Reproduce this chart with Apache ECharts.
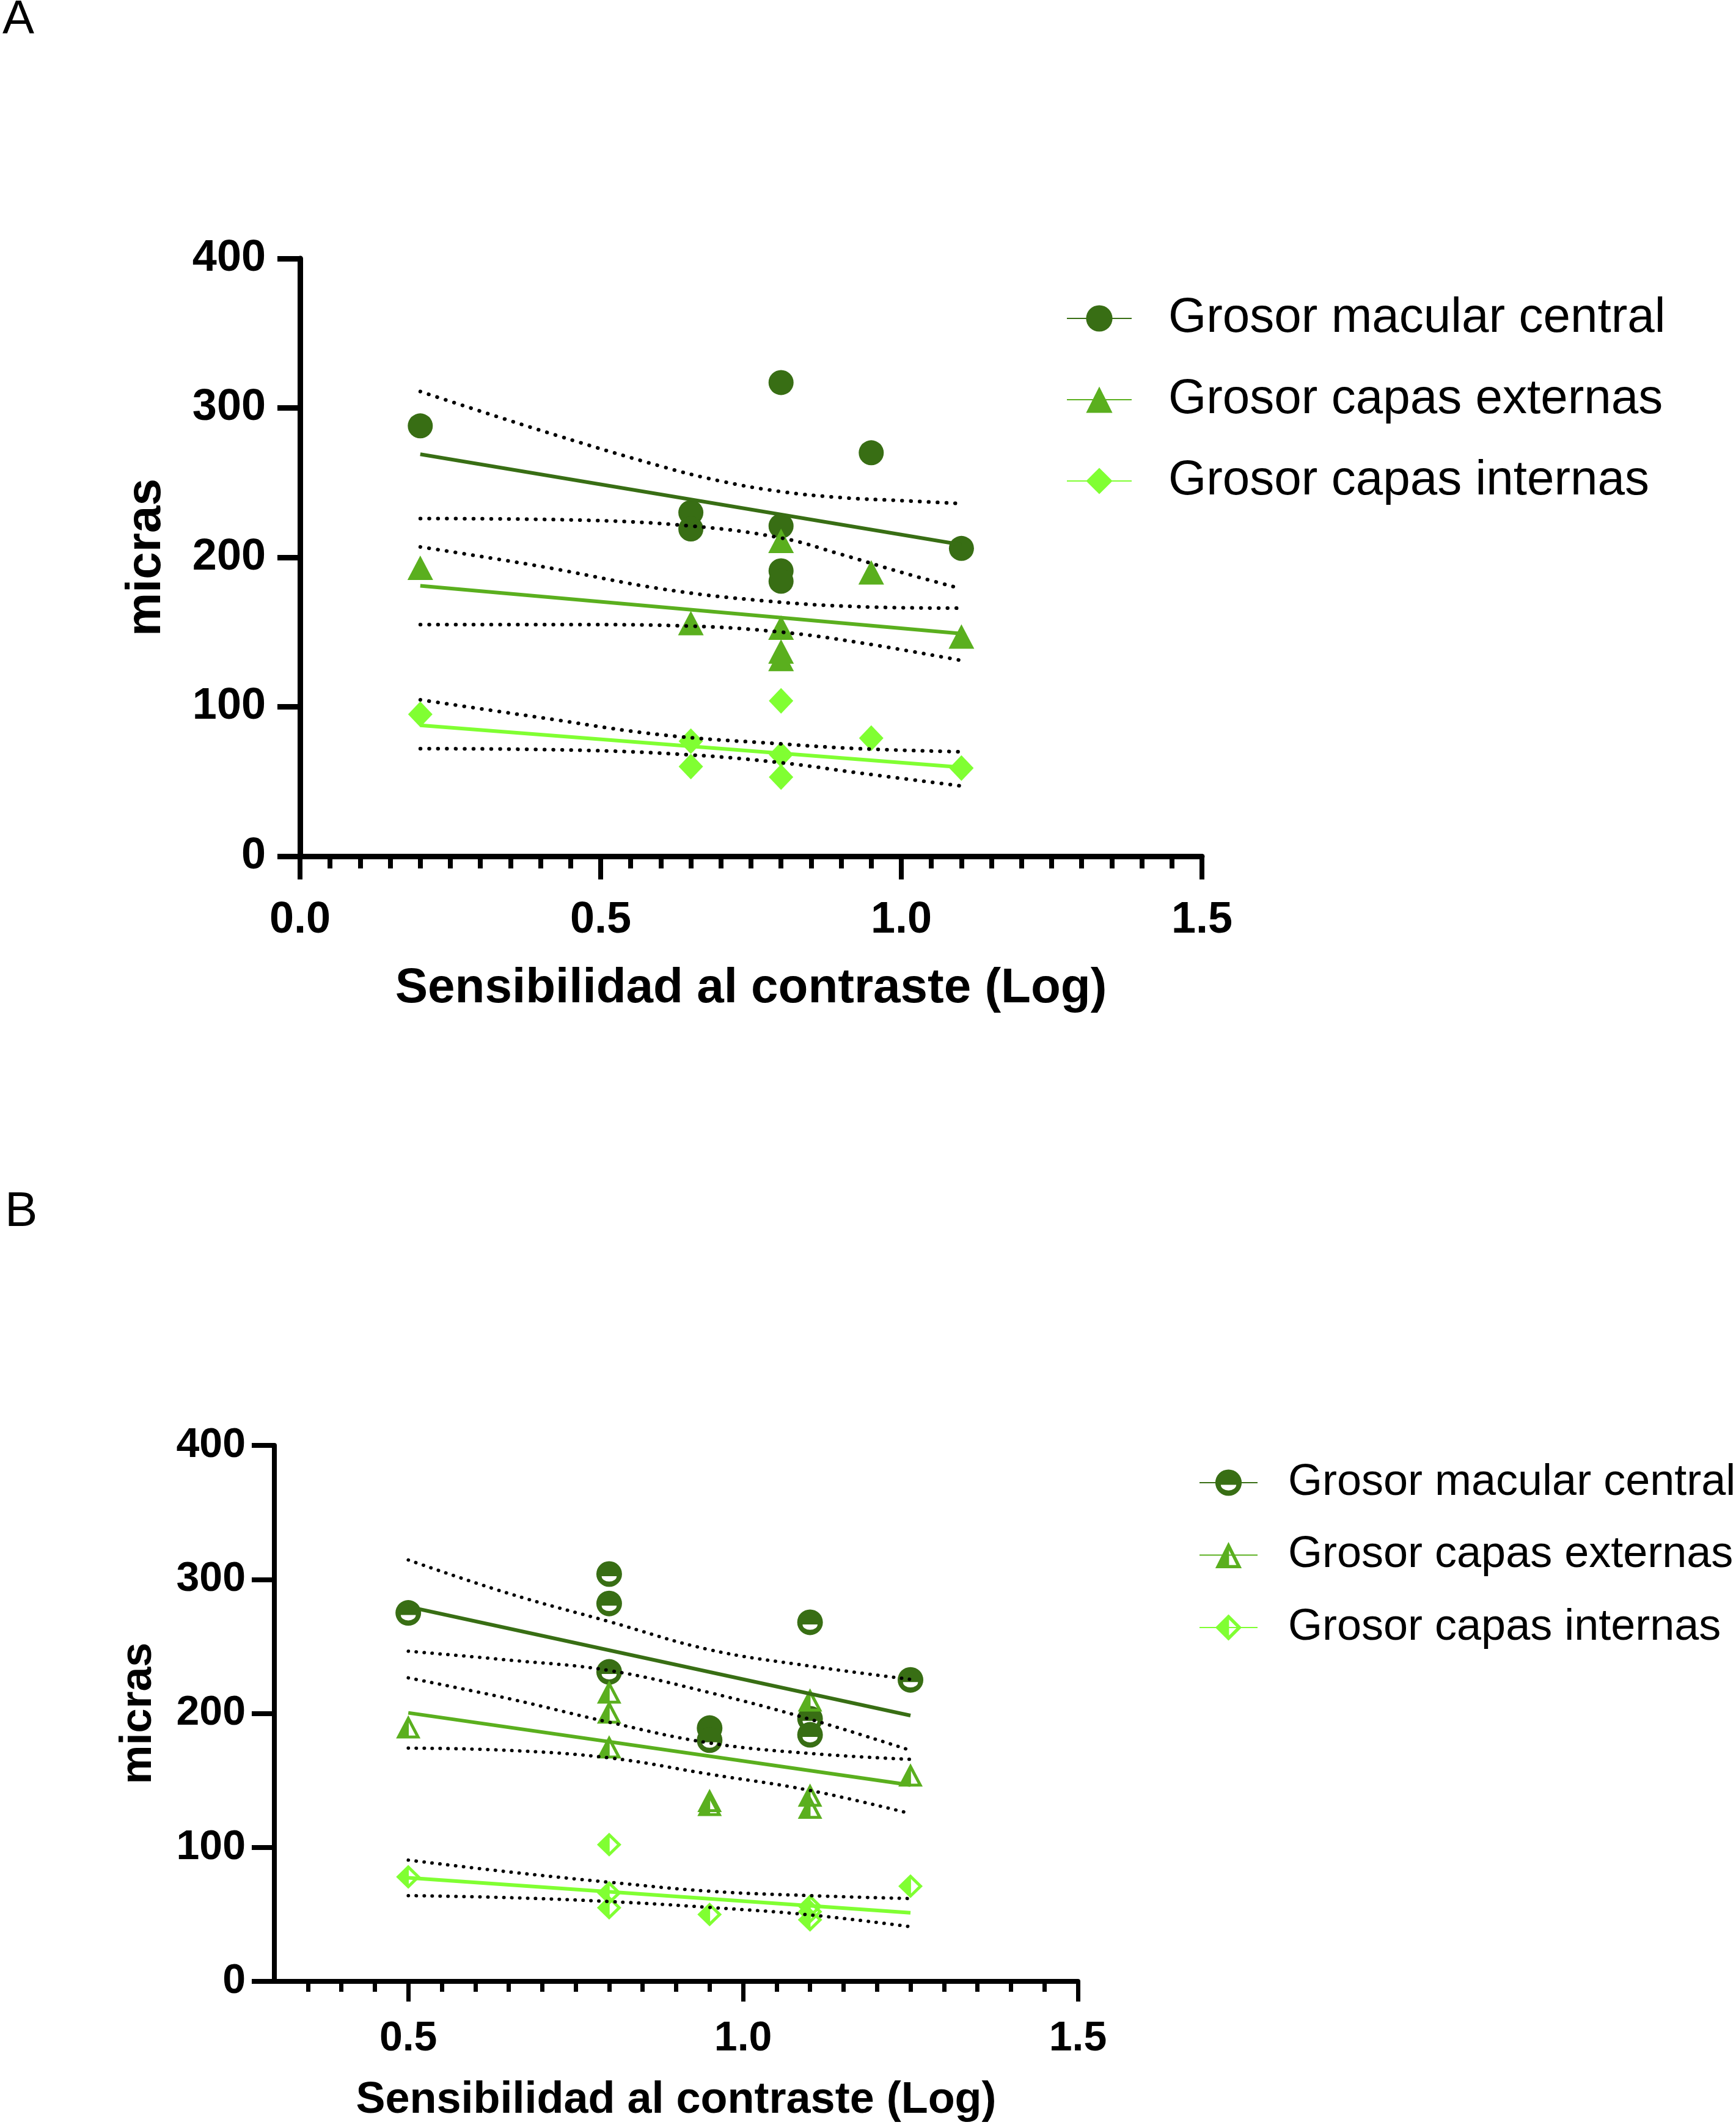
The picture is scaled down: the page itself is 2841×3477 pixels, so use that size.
<!DOCTYPE html>
<html><head><meta charset="utf-8">
<script src="https://cdn.jsdelivr.net/npm/echarts@6/dist/echarts.min.js"></script>
<style>html,body{margin:0;padding:0;background:#fff}#c{width:2841px;height:3477px}</style>
</head><body><div id="c"></div>
<script>
// ---------------- Shared ----------------
const seriesNames = ['Grosor macular central', 'Grosor capas externas', 'Grosor capas internas'];
const yTickValues = [0, 100, 200, 300, 400];

// ---------------- Panel A data ----------------
const aCircleX = [0.2, 0.65, 0.65, 0.8, 0.8, 0.8, 0.8, 0.95, 1.1];
const aCircleY = [288, 230, 219, 317, 221, 191, 184, 270, 206];
const aTriX = [0.2, 0.65, 0.8, 0.8, 0.8, 0.8, 0.95, 1.1];
const aTriY = [193, 156, 211, 153, 137, 132, 190, 147];
const aDiaX = [0.2, 0.65, 0.65, 0.8, 0.8, 0.8, 0.95, 1.1];
const aDiaY = [95, 77, 60, 104, 68, 53, 79, 59];

const aFitX = [0.2, 1.1];
const aFitCircle = [269, 208.5];
const aFitTri = [181, 149];
const aFitDia = [87.6, 59.5];

const aCircleUpX = [0.2, 0.4, 0.6, 0.7, 0.8, 0.9, 1.0, 1.1];
const aCircleUpY = [311, 285, 261, 251, 244, 240, 238, 236];
const aCircleLoX = [0.2, 0.46, 0.65, 0.8, 0.9, 1.0, 1.1];
const aCircleLoY = [226, 225, 221, 213, 202, 190, 179];
const aTriUpX = [0.2, 0.4, 0.6, 0.77, 0.93, 1.1];
const aTriUpY = [207, 194, 179, 171, 167, 166];
const aTriLoX = [0.2, 0.46, 0.65, 0.8, 0.93, 1.1];
const aTriLoY = [155, 155, 154, 150, 143, 131];
const aDiaUpX = [0.2, 0.4, 0.6, 0.8, 0.93, 1.1];
const aDiaUpY = [104.7, 92.8, 81.3, 75.2, 72, 69.9];
const aDiaLoX = [0.2, 0.46, 0.65, 0.8, 0.93, 1.1];
const aDiaLoY = [72, 71, 67.8, 62.6, 55.7, 47];

// ---------------- Panel B data ----------------
const bCircleX = [0.5, 0.8, 0.8, 0.8, 0.95, 0.95, 1.1, 1.1, 1.1, 1.25];
const bCircleY = [275, 304, 282, 231, 189, 180, 268, 196, 184, 225];
const bTriX = [0.5, 0.8, 0.8, 0.8, 0.95, 0.95, 1.1, 1.1, 1.1, 1.25];
const bTriY = [190, 216, 201, 175, 135, 132, 210, 139, 130, 154];
const bDiaX = [0.5, 0.8, 0.8, 0.8, 0.95, 1.1, 1.1, 1.1, 1.25];
const bDiaY = [78, 102, 66, 55, 50, 56, 52, 46, 71];

const bFitX = [0.5, 1.25];
const bFitCircle = [279.6, 198.4];
const bFitTri = [200.4, 146.5];
const bFitDia = [77.3, 51.2];

const bBandX = [0.5, 0.65, 0.8, 0.95, 1.1, 1.25];
const bCircleUpY = [314.5, 289.5, 268.5, 247.5, 235.3, 225.4];
const bCircleLoY = [246.4, 239.8, 232, 215.5, 195.6, 172.4];
const bTriUpY = [226.5, 211, 193.4, 177.9, 170.1, 165.7];
const bTriLoY = [174.1, 172.4, 166.8, 154.6, 142.5, 125.2];
const bDiaUpY = [90.5, 81.7, 74, 67.3, 64, 61.8];
const bDiaLoY = [64, 62.5, 59.6, 55.2, 49.6, 40.8];

const xMajorB = [0.5, 1.0, 1.5];
const xMinorB = [0.35, 0.4, 0.45, 0.55, 0.6, 0.65, 0.7, 0.75, 0.8, 0.85, 0.9, 0.95,
                 1.05, 1.1, 1.15, 1.2, 1.25, 1.3, 1.35, 1.4, 1.45];

// ---------------- Styling ----------------
const COLORS = ['#386E14', '#5AAF1E', '#80FF32'];
const FONT = 'Liberation Sans';
const SYM_A = ['circle', 'triangle', 'diamond'];
const SIZE_A = [41, [42, 40], [40, 42]];
const SYM_B = [
  'path://M20,0A20,20,0,1,1,19.99,0ZM31.7,23.3L8.3,23.3A11.7,8.5,0,0,0,31.7,23.3Z',
  'path://M20,0L40,40L0,40ZM20.8,12.8L20.8,35L31.9,35Z',
  'path://M20,0L40,20L20,40L0,20ZM20.8,7.9L20.8,32.1L32.9,20Z'
];
const SIZE_B = [42, [40, 38], [40, 39]];

function zip(xs, ys) { return xs.map((x, i) => [x, ys[i]]); }

const series = [];
function addPanel(prefix, axisIdx, pts, fits, fitX, bands, syms, sizes, lineW, dotW, dash) {
  pts.forEach((p, i) => {
    series.push({
      type: 'scatter', name: prefix + '|pts' + i, xAxisIndex: axisIdx, yAxisIndex: axisIdx,
      data: zip(p[0], p[1]), symbol: syms[i], symbolSize: sizes[i],
      itemStyle: { color: COLORS[i], opacity: 1 }, z: 3, silent: true
    });
  });
  fits.forEach((f, i) => {
    series.push({
      type: 'line', name: prefix + '|' + seriesNames[i], xAxisIndex: axisIdx, yAxisIndex: axisIdx,
      data: zip(fitX, f), symbol: syms[i], symbolSize: sizes[i], showSymbol: false,
      lineStyle: { color: COLORS[i], width: lineW }, itemStyle: { color: COLORS[i] },
      z: 4, silent: true
    });
  });
  bands.forEach((b, i) => {
    series.push({
      type: 'line', name: prefix + '|band' + i, xAxisIndex: axisIdx, yAxisIndex: axisIdx,
      data: zip(b[0], b[1]), symbol: 'none', smooth: 0.4,
      lineStyle: { color: '#000', width: dotW, type: dash, cap: 'round' },
      z: 5, silent: true
    });
  });
}

addPanel('A', 0,
  [[aCircleX, aCircleY], [aTriX, aTriY], [aDiaX, aDiaY]],
  [aFitCircle, aFitTri, aFitDia], aFitX,
  [[aCircleUpX, aCircleUpY], [aCircleLoX, aCircleLoY], [aTriUpX, aTriUpY],
   [aTriLoX, aTriLoY], [aDiaUpX, aDiaUpY], [aDiaLoX, aDiaLoY]],
  SYM_A, SIZE_A, 6, 6, [0.5, 14]);

addPanel('B', 1,
  [[bCircleX, bCircleY], [bTriX, bTriY], [bDiaX, bDiaY]],
  [bFitCircle, bFitTri, bFitDia], bFitX,
  [[bBandX, bCircleUpY], [bBandX, bCircleLoY], [bBandX, bTriUpY],
   [bBandX, bTriLoY], [bBandX, bDiaUpY], [bBandX, bDiaLoY]],
  SYM_B, SIZE_B, 6, 5.5, [0.5, 12.5]);

function yAxisCfg(grid, fs, margin, nameGap, nameFs, lw) {
  return {
    type: 'value', gridIndex: grid, min: 0, max: 400, interval: 100,
    name: 'micras', nameLocation: 'middle', nameRotate: 90, nameGap: nameGap,
    nameTextStyle: { fontFamily: FONT, fontWeight: 'bold', fontSize: nameFs, color: '#000' },
    axisLine: { show: true, lineStyle: { color: '#000', width: lw } },
    axisTick: { show: true, length: 37, lineStyle: { color: '#000', width: lw } },
    axisLabel: { fontFamily: FONT, fontWeight: 'bold', fontSize: fs, color: '#000', margin: margin },
    splitLine: { show: false }
  };
}

const option = {
  animation: false,
  backgroundColor: '#fff',
  graphic: [
    { type: 'text', left: 4, top: -6, style: { text: 'A', fontFamily: FONT, fontSize: 78, fill: '#000' } },
    { type: 'text', left: 8, top: 1944, style: { text: 'B', fontFamily: FONT, fontSize: 80, fill: '#000' } }
  ],
  grid: [
    { left: 491, right: 874, top: 423, bottom: 2076 },
    { left: 449, right: 1077, top: 2365, bottom: 235 }
  ],
  legend: [
    {
      orient: 'vertical', left: 1745, top: 481, padding: 0, itemGap: 53,
      itemWidth: 106, itemHeight: 54, selectedMode: false,
      data: seriesNames.map(n => 'A|' + n),
      formatter: n => n.split('|')[1],
      textStyle: { fontFamily: FONT, fontSize: 80, lineHeight: 80, color: '#000', padding: [0, 0, 0, 55] }
    },
    {
      orient: 'vertical', left: 1962, top: 2390, padding: 0, itemGap: 46.5,
      itemWidth: 95, itemHeight: 54, selectedMode: false,
      data: seriesNames.map(n => 'B|' + n),
      formatter: n => n.split('|')[1],
      textStyle: { fontFamily: FONT, fontSize: 72, lineHeight: 72, color: '#000', padding: [0, 0, 0, 45] }
    }
  ],
  xAxis: [
    {
      type: 'value', gridIndex: 0, min: 0, max: 1.5, interval: 0.5, position: 'bottom',
      name: 'Sensibilidad al contraste (Log)', nameLocation: 'middle', nameGap: 177,
      nameTextStyle: { fontFamily: FONT, fontWeight: 'bold', fontSize: 80, color: '#000' },
      axisLine: { show: true, onZero: false, lineStyle: { color: '#000', width: 9 } },
      axisTick: { show: true, length: 38, lineStyle: { color: '#000', width: 8 } },
      minorTick: { show: true, splitNumber: 10, length: 20, lineStyle: { color: '#000', width: 8 } },
      axisLabel: { fontFamily: FONT, fontWeight: 'bold', fontSize: 72, color: '#000', margin: 69,
                   formatter: v => v.toFixed(1) },
      splitLine: { show: false }, minorSplitLine: { show: false }
    },
    {
      type: 'value', gridIndex: 1, min: 0.3, max: 1.5, position: 'bottom',
      name: 'Sensibilidad al contraste (Log)', nameLocation: 'middle', nameGap: 159,
      nameTextStyle: { fontFamily: FONT, fontWeight: 'bold', fontSize: 72, color: '#000' },
      axisLine: { show: true, onZero: false, lineStyle: { color: '#000', width: 8 } },
      axisTick: { show: true, length: 33, customValues: xMajorB, lineStyle: { color: '#000', width: 7 } },
      axisLabel: { fontFamily: FONT, fontWeight: 'bold', fontSize: 68, color: '#000', margin: 60,
                   customValues: xMajorB, formatter: v => v.toFixed(1) },
      splitLine: { show: false }
    },
    {
      type: 'value', gridIndex: 1, min: 0.3, max: 1.5, position: 'bottom', offset: 0,
      axisLine: { show: false, onZero: false },
      axisTick: { show: true, length: 17, customValues: xMinorB, lineStyle: { color: '#000', width: 7 } },
      axisLabel: { show: false, customValues: xMinorB },
      splitLine: { show: false }
    }
  ],
  yAxis: [
    yAxisCfg(0, 72, 56, 211, 80, 9),
    yAxisCfg(1, 68, 47, 186, 72, 8)
  ],
  series: series
};

const chart = echarts.init(document.getElementById('c'));
chart.setOption(option);
</script>
</body></html>
